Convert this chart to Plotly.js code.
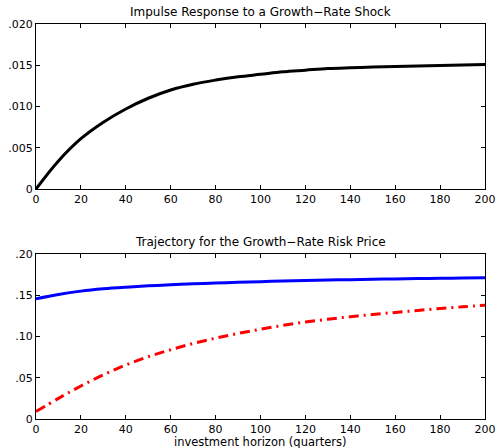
<!DOCTYPE html>
<html>
<head>
<meta charset="utf-8">
<script src="https://cdn.plot.ly/plotly-3.0.1.min.js"></script>
<style>html,body{margin:0;padding:0;background:#fff;}#chart{width:497px;height:448px;}</style>
</head>
<body>
<div id="chart"></div>
<script>
const horizon = [0,10,20,30,40,50,60,70,80,90,100,110,120,130,140,150,160,170,180,190,200];
const impulse = [0,0.0034,0.0061,0.0081,0.0097,0.0110,0.0120,0.0127,0.0132,0.0136,0.0139,0.0142,0.0144,0.0146,0.0147,0.01478,0.01485,0.01492,0.01498,0.01503,0.01508];
const priceBlue = [0.1458,0.1510,0.1550,0.1578,0.1598,0.1614,0.1627,0.1638,0.1648,0.1657,0.1665,0.1672,0.1678,0.1684,0.1689,0.1694,0.1698,0.1702,0.1705,0.1708,0.1711];
const priceRed = [0.009,0.025,0.040,0.0535,0.0655,0.0755,0.0840,0.0915,0.0980,0.1037,0.1088,0.1135,0.1175,0.1210,0.1240,0.1267,0.1292,0.1316,0.1339,0.1360,0.1380];
const xTicks = [0,20,40,60,80,100,120,140,160,180,200];
const topTickVals = [0,0.005,0.010,0.015,0.020];
const topTickText = ['0','.005','.010','.015','.020'];
const botTickVals = [0,0.05,0.10,0.15,0.20];
const botTickText = ['0','.05','.10','.15','.20'];
const topTitle = 'Impulse Response to a Growth\u2212Rate Shock';
const botTitle = 'Trajectory for the Growth\u2212Rate Risk Price';
const xTitle = 'investment horizon (quarters)';

const fam = 'DejaVu Sans, Liberation Sans, Arial, sans-serif';
const font = {family: fam, size: 11, color: '#000'};
const titleFont = {family: fam, size: 12, color: '#000'};
const xTitleFont = {family: fam, size: 11.5, color: '#000'};
const axisCommon = {
  showgrid: false, zeroline: false, showline: true, linecolor: '#000', linewidth: 1,
  mirror: 'ticks', ticks: 'inside', ticklen: 4, tickcolor: '#000', tickwidth: 1,
  tickfont: font
};

const traces = [
  {x: horizon, y: impulse, xaxis: 'x', yaxis: 'y', mode: 'lines', line: {color: '#000', width: 3, shape: 'spline'}, hoverinfo: 'skip'},
  {x: horizon, y: priceBlue, xaxis: 'x2', yaxis: 'y2', mode: 'lines', line: {color: '#0000ff', width: 3, shape: 'spline'}, hoverinfo: 'skip'},
  {x: horizon, y: priceRed, xaxis: 'x2', yaxis: 'y2', mode: 'lines', line: {color: '#ff0000', width: 3, shape: 'spline', dash: '10px,5px,2px,5px'}, hoverinfo: 'skip'}
];

const layout = {
  width: 497, height: 448,
  margin: {l: 36, r: 12, t: 24, b: 29},
  paper_bgcolor: '#fff', plot_bgcolor: '#fff',
  showlegend: false,
  font: font,
  xaxis: Object.assign({}, axisCommon, {domain: [0, 1], range: [0, 200], tickvals: xTicks, anchor: 'y'}),
  yaxis: Object.assign({}, axisCommon, {domain: [0.5823, 1], range: [0, 0.02], tickvals: topTickVals, ticktext: topTickText, anchor: 'x'}),
  xaxis2: Object.assign({}, axisCommon, {domain: [0, 1], range: [0, 200], tickvals: xTicks, anchor: 'y2'}),
  yaxis2: Object.assign({}, axisCommon, {domain: [0, 0.4177], range: [0, 0.2], tickvals: botTickVals, ticktext: botTickText, anchor: 'x2'}),
  annotations: [
    {text: topTitle, xref: 'paper', yref: 'paper', x: 0.5, y: 1, yshift: 3, xanchor: 'center', yanchor: 'bottom', showarrow: false, font: titleFont},
    {text: botTitle, xref: 'paper', yref: 'paper', x: 0.5, y: 0.4177, yshift: 3, xanchor: 'center', yanchor: 'bottom', showarrow: false, font: titleFont},
    {text: xTitle, xref: 'paper', yref: 'paper', x: 0.5, y: 0, yshift: -23, xanchor: 'center', yanchor: 'middle', showarrow: false, font: xTitleFont, borderpad: 0}
  ]
};

Plotly.newPlot('chart', traces, layout, {staticPlot: true, displayModeBar: false});
</script>
</body>
</html>
